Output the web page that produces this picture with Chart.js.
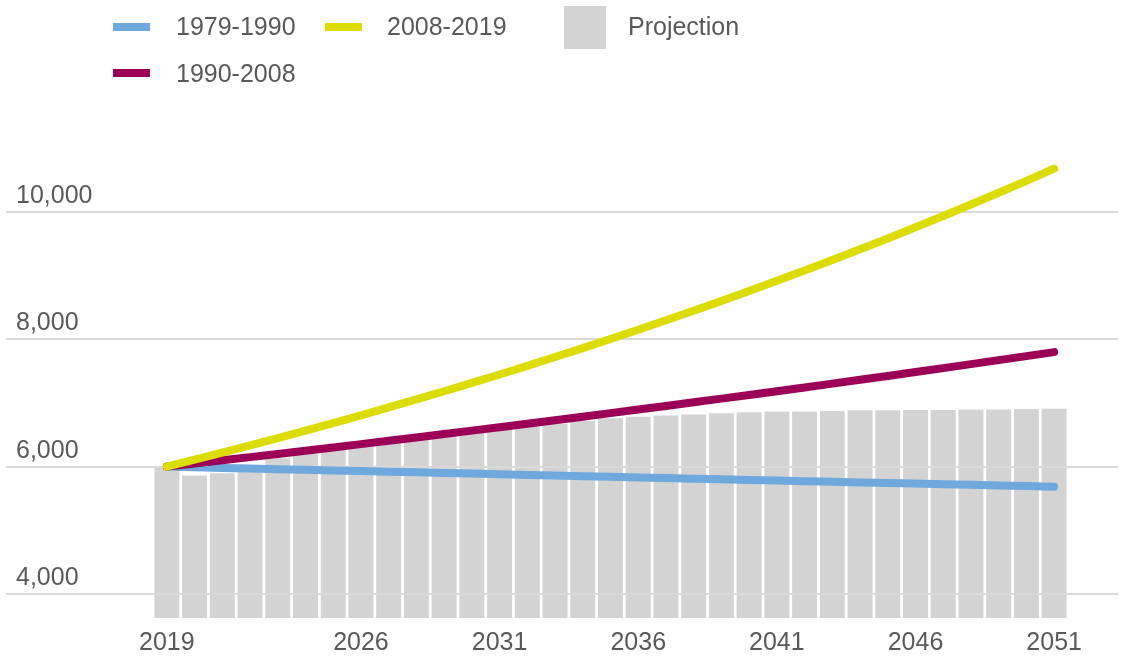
<!DOCTYPE html>
<html>
<head>
<meta charset="utf-8">
<script src="https://cdn.jsdelivr.net/npm/chart.js@4/dist/chart.umd.min.js"></script>
<style>
    html, body { margin: 0; padding: 0; background: #fff; }
    #wrap { position: relative; width: 1121px; height: 657px; font-family: "Liberation Sans", Arial, sans-serif; color: #595959; }
    #chart { position: absolute; left: 0; top: 0; }
    .leg { position: absolute; font-size: 25px; line-height: 30px; white-space: nowrap; }
    .sym { position: absolute; width: 37px; height: 8px; }
</style>
</head>
<body>
<div id="wrap">
    <canvas id="chart" width="1121" height="657"></canvas>

    <!-- legenda no estilo Excel (duas linhas) -->
    <div class="sym" style="left:113px; top:23px; background:#6fa8dc;"></div>
    <div class="leg" style="left:176px; top:11px;">1979-1990</div>
    <div class="sym" style="left:325px; top:23px; background:#dcdc00;"></div>
    <div class="leg" style="left:387px; top:11px;">2008-2019</div>
    <div style="position:absolute; left:564px; top:6px; width:42px; height:43px; background:#d3d3d3;"></div>
    <div class="leg" style="left:628px; top:11px;">Projection</div>
    <div class="sym" style="left:113px; top:69px; background:#9b0056;"></div>
    <div class="leg" style="left:176px; top:58px;">1990-2008</div>
</div>

<script>
// =========================================================
// DADOS
// =========================================================
const years = ['2019', '2020', '2021', '2022', '2023', '2024', '2025', '2026', '2027', '2028',
    '2029', '2030', '2031', '2032', '2033', '2034', '2035', '2036', '2037', '2038',
    '2039', '2040', '2041', '2042', '2043', '2044', '2045', '2046', '2047', '2048',
    '2049', '2050', '2051'];

const xTickLabels = ['2019', '2026', '2031', '2036', '2041', '2046', '2051'];
const yTicks = [4000, 6000, 8000, 10000];

const projection = [6000, 5860, 5895, 6015, 6130, 6200, 6280, 6330, 6385, 6425,
    6490, 6540, 6590, 6630, 6670, 6720, 6760, 6785, 6805, 6820,
    6840, 6855, 6865, 6865, 6875, 6885, 6885, 6890, 6890, 6900,
    6900, 6905, 6910];

const trend1979 = [6000, 5990, 5980, 5970, 5960, 5950, 5940, 5930, 5920, 5910,
    5900, 5890, 5880, 5870, 5860, 5850, 5840, 5830, 5820, 5810,
    5800, 5790, 5781, 5771, 5762, 5752, 5742, 5733, 5723, 5714,
    5704, 5695, 5685];

const trend1990 = [6000, 6049, 6099, 6149, 6200, 6251, 6302, 6354, 6406, 6459,
    6512, 6566, 6620, 6674, 6729, 6785, 6841, 6897, 6954, 7011,
    7069, 7127, 7186, 7245, 7305, 7365, 7426, 7487, 7549, 7611,
    7674, 7737, 7800];

const trend2008 = [6000, 6109, 6220, 6333, 6449, 6566, 6685, 6807, 6931, 7057,
    7185, 7316, 7449, 7585, 7723, 7863, 8006, 8152, 8300, 8451,
    8605, 8762, 8921, 9083, 9249, 9417, 9588, 9763, 9941, 10121,
    10306, 10493, 10684];

const textColor = '#595959';
const fontFamily = '"Liberation Sans", Arial, sans-serif';

// Grade e rótulos do eixo Y estilo Excel (por cima das barras, texto acima da linha)
const excelGrid = {
    id: 'excelGrid',
    afterDatasetDraw(chart, args) {
        if (args.index !== 0) return;
        const y = chart.scales.y;
        const ctx = chart.ctx;
        ctx.save();
        ctx.strokeStyle = '#d9d9d9';
        ctx.lineWidth = 2;
        yTicks.forEach(v => {
            const py = Math.round(y.getPixelForValue(v));
            ctx.beginPath();
            ctx.moveTo(6, py);
            ctx.lineTo(1118, py);
            ctx.stroke();
        });
        ctx.fillStyle = textColor;
        ctx.font = '25px ' + fontFamily;
        ctx.textAlign = 'left';
        ctx.textBaseline = 'alphabetic';
        yTicks.forEach(v => {
            const py = Math.round(y.getPixelForValue(v));
            ctx.fillText(v.toLocaleString('en-US'), 16, py - 9);
        });
        ctx.restore();
    }
};

const lineStyle = {
    type: 'line',
    borderWidth: 8,
    pointRadius: 0,
    tension: 0,
    borderCapStyle: 'round',
    borderJoinStyle: 'round',
    fill: false
};

new Chart(document.getElementById('chart'), {
    data: {
        labels: years,
        datasets: [
            { type: 'bar', label: 'Projection', data: projection, backgroundColor: '#d3d3d3',
              barPercentage: 0.9, categoryPercentage: 1, order: 3 },
            { ...lineStyle, label: '1979-1990', data: trend1979, borderColor: '#6fa8dc', order: 2 },
            { ...lineStyle, label: '1990-2008', data: trend1990, borderColor: '#9b0056', order: 1 },
            { ...lineStyle, label: '2008-2019', data: trend2008, borderColor: '#dcdc00', order: 0 }
        ]
    },
    options: {
        responsive: false,
        animation: false,
        layout: { padding: { left: 153, right: 53, top: 85, bottom: 0 } },
        plugins: {
            legend: { display: false },
            tooltip: { enabled: false }
        },
        scales: {
            x: {
                offset: true,
                grid: { display: false },
                border: { display: false },
                afterFit: function(scale) { scale.height = 39; },
                ticks: {
                    autoSkip: false,
                    maxRotation: 0,
                    padding: 2,
                    color: textColor,
                    font: { family: fontFamily, size: 25 },
                    callback: function(value) {
                        const lbl = this.getLabelForValue(value);
                        return xTickLabels.includes(lbl) ? lbl : '';
                    }
                }
            },
            y: {
                display: false,
                min: 3620,
                max: 12000
            }
        }
    },
    plugins: [excelGrid]
});
</script>
</body>
</html>
